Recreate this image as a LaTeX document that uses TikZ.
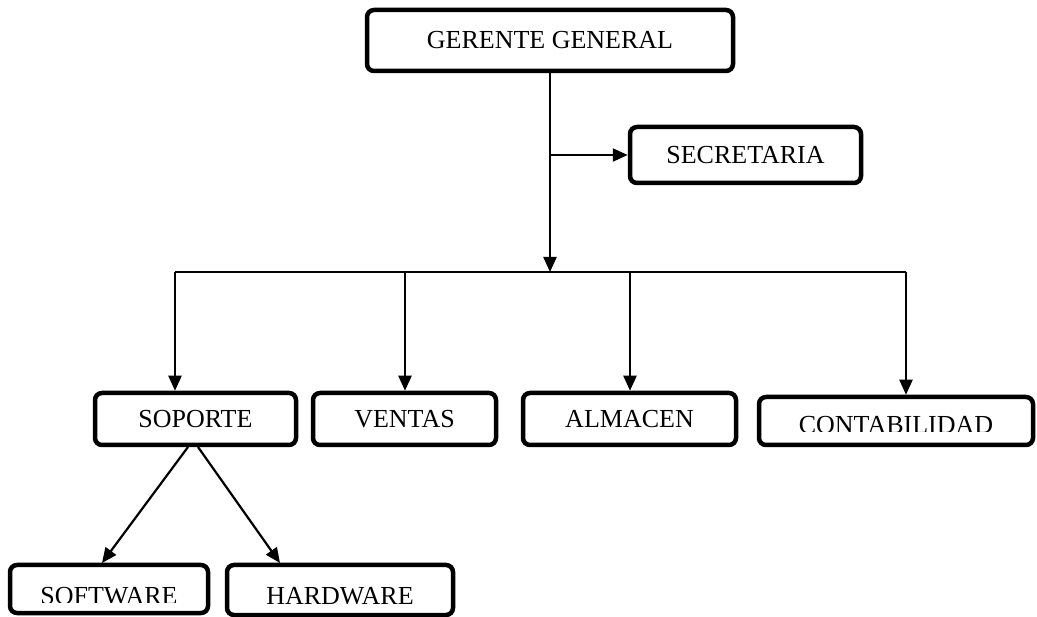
\documentclass[tikz,border=0pt]{standalone}
\usepackage{fontspec}
\setmainfont{Liberation Serif}
\usetikzlibrary{arrows.meta}

\tikzset{
  orgbox/.style={draw=black, line width=4.5pt, rounded corners=7pt, fill=white,
    inner sep=0pt, font=\fontsize{26}{30}\selectfont, align=center},
  boxtext/.style={inner sep=0pt, font=\fontsize{26}{30}\selectfont, anchor=base},
  link/.style={draw=black, line width=2.2pt},
  arrowlink/.style={link, -{Triangle[length=15pt,width=13pt]}}
}

\begin{document}
\begin{tikzpicture}[x=1pt, y=-1pt]
  \useasboundingbox (0,0) rectangle (1037,617);

  % top level
  \node[orgbox, minimum width=366pt, minimum height=61pt] (gg) at (550,40.5) {GERENTE GENERAL};
  \node[orgbox, minimum width=231pt, minimum height=56pt] (sec) at (745.5,155) {SECRETARIA};

  % departments
  \node[orgbox, minimum width=201pt, minimum height=52pt] (sop) at (195.5,419) {SOPORTE};
  \node[orgbox, minimum width=183pt, minimum height=52pt] (ven) at (404.5,419) {VENTAS};
  \node[orgbox, minimum width=213pt, minimum height=52pt] (alm) at (629.5,419) {ALMACEN};
  \node[orgbox, minimum width=274pt, minimum height=48pt] (con) at (896,421) {};

  % support sub-areas
  \node[orgbox, minimum width=198pt, minimum height=48pt] (sw) at (109,589) {};
  \node[orgbox, minimum width=226pt, minimum height=50pt] (hw) at (340,590) {};

  % labels whose lower edge is trimmed by the box
  \begin{scope}
    \clip (760,398) rectangle (1032,432);
    \node[boxtext] (contxt) at (896,434) {CONTABILIDAD};
  \end{scope}
  \begin{scope}
    \clip (12,566) rectangle (206,602);
    \node[boxtext] (swtxt) at (109,604) {SOFTWARE};
  \end{scope}
  \begin{scope}
    \clip (229,566) rectangle (451,603);
    \node[boxtext] (hwtxt) at (340,604) {HARDWARE};
  \end{scope}

  % connector points
  \coordinate (trunk) at (550,73);
  \coordinate (secjoin) at (550,155);
  \coordinate (bus) at (550,272);
  \coordinate (busL) at (175,272);
  \coordinate (busV) at (405,272);
  \coordinate (busA) at (630,272);
  \coordinate (busR) at (906,272);
  \coordinate (sopL) at (188,447);
  \coordinate (sopR) at (198,447);
  \coordinate (swin) at (102,563);
  \coordinate (hwin) at (280,563);

  % main trunk and secretary branch
  \draw[arrowlink] (trunk) -- (bus);
  \draw[arrowlink] (secjoin) -- (sec.west |- secjoin);

  % distribution bus and drops
  \draw[link] (busL) -- (busR);
  \draw[arrowlink] (busL) -- (busL |- sop.north);
  \draw[arrowlink] (busV) -- (busV |- ven.north);
  \draw[arrowlink] (busA) -- (busA |- alm.north);
  \draw[arrowlink] (busR) -- (busR |- con.north);

  % support to software / hardware
  \draw[arrowlink] (sopL) -- (swin);
  \draw[arrowlink] (sopR) -- (hwin);
\end{tikzpicture}
\end{document}
